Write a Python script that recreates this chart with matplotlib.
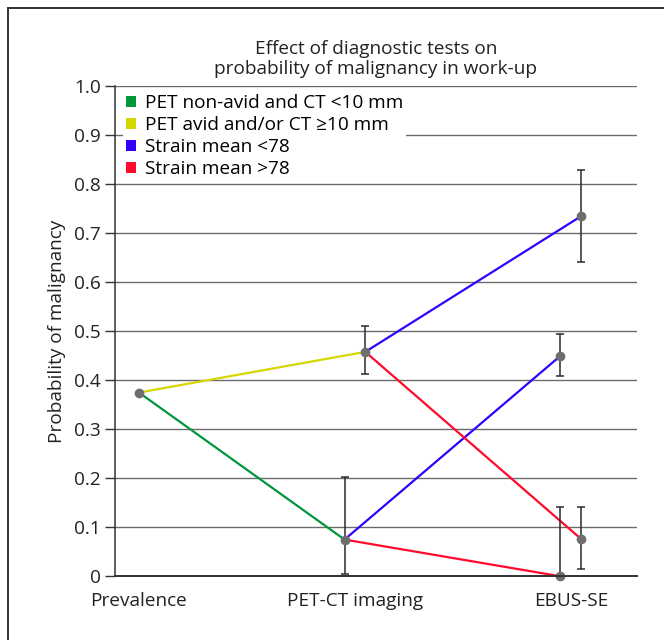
import matplotlib

matplotlib.use("Agg")
import matplotlib.pyplot as plt
from matplotlib.lines import Line2D
from matplotlib.patches import Patch

plt.rcParams["font.family"] = ["Open Sans", "DejaVu Sans"]

stages = ["Prevalence", "PET-CT imaging", "EBUS-SE"]

# nodes of the work-up tree: stage index, dodge side, probability and 95% CI
node_stage = [0, 1, 1, 2, 2, 2, 2]
node_side = [0, -1, 1, -1, -1, 1, 1]
node_prob = [0.375, 0.075, 0.458, 0.450, 0.000, 0.735, 0.076]
node_lo = [None, 0.004, 0.412, 0.409, 0.000, 0.641, 0.015]
node_hi = [None, 0.203, 0.511, 0.495, 0.141, 0.830, 0.141]

# branches between nodes, with the test result they stand for
edge_from = [0, 0, 1, 1, 2, 2]
edge_to = [1, 2, 3, 4, 5, 6]
edge_kind = ["neg", "pos", "low", "high", "low", "high"]

legend_labels = {
    "neg": "PET non-avid and CT <10 mm",
    "pos": "PET avid and/or CT \u226510 mm",
    "low": "Strain mean <78",
    "high": "Strain mean >78",
}
colors = {"neg": "#00963c", "pos": "#d6d600", "low": "#3300ff", "high": "#ff0a2a"}

yticks = [0, 0.1, 0.2, 0.3, 0.4, 0.5, 0.6, 0.7, 0.8, 0.9, 1.0]
yticklabels = ["0", "0.1", "0.2", "0.3", "0.4", "0.5", "0.6", "0.7", "0.8", "0.9", "1.0"]

DODGE = 0.048
FS = 13.7

fig = plt.figure(figsize=(6.64, 6.40), dpi=100)
ax = fig.add_axes([0.1732, 0.0995, 0.786, 0.7657])

xs = [s + side * DODGE for s, side in zip(node_stage, node_side)]

for a, b, kind in zip(edge_from, edge_to, edge_kind):
    ax.plot([xs[a], xs[b]], [node_prob[a], node_prob[b]], color=colors[kind],
            lw=1.6, zorder=3, solid_capstyle="butt")

for x, y, lo, hi in zip(xs, node_prob, node_lo, node_hi):
    if lo is not None:
        ax.errorbar([x], [y], yerr=[[y - lo], [hi - y]], fmt="none",
                    ecolor="#2b2b2b", elinewidth=1.1, capsize=3, capthick=1.1,
                    zorder=4)
ax.plot(xs, node_prob, "o", color="#6e6e6e", ms=7, mec="none", zorder=5,
        clip_on=False)

ax.set_xlim(-0.111, 2.306)
ax.set_ylim(0, 1.0)
ax.set_yticks(yticks)
ax.set_yticklabels(yticklabels)
ax.set_xticks(range(len(stages)))
ax.set_xticklabels(stages)
ax.tick_params(axis="y", length=7, width=1, color="#333333", labelsize=FS,
               labelcolor="#222222", pad=3)
ax.tick_params(axis="x", length=0, labelsize=FS, labelcolor="#222222", pad=11)
ax.grid(axis="y", color="#6b6b6b", lw=1)
ax.set_axisbelow(True)
for side in ("top", "right"):
    ax.spines[side].set_visible(False)
for side in ("left", "bottom"):
    ax.spines[side].set_color("#333333")
    ax.spines[side].set_zorder(8)
ax.spines["left"].set_linewidth(1.1)
ax.spines["bottom"].set_linewidth(1.4)

ax.set_ylabel("Probability of malignancy", fontsize=FS, color="#222222",
              labelpad=6)
ax.set_title("Effect of diagnostic tests on\nprobability of malignancy in work-up",
             fontsize=FS, color="#222222", pad=9, linespacing=1.1)

handles = [Patch(facecolor=colors[k], edgecolor="none", label=legend_labels[k])
           for k in ["neg", "pos", "low", "high"]]
leg = ax.legend(handles=handles, loc="upper left", bbox_to_anchor=(0.015, 0.99),
                fontsize=FS, frameon=True, fancybox=False, framealpha=1,
                borderaxespad=0, borderpad=0.15, handlelength=0.55,
                handleheight=0.55, handletextpad=0.45, labelspacing=0.21)
leg.get_frame().set_edgecolor("none")
leg.get_frame().set_facecolor("white")
leg.set_zorder(6)

# outer frame of the figure panel
fig.add_artist(Line2D([8 / 664, 8 / 664], [0, 1 - 8 / 640], color="#333333",
                      lw=1.4, transform=fig.transFigure))
fig.add_artist(Line2D([8 / 664, 1], [1 - 8 / 640, 1 - 8 / 640], color="#333333",
                      lw=1.4, transform=fig.transFigure))

fig.savefig("out.png", dpi=100)
